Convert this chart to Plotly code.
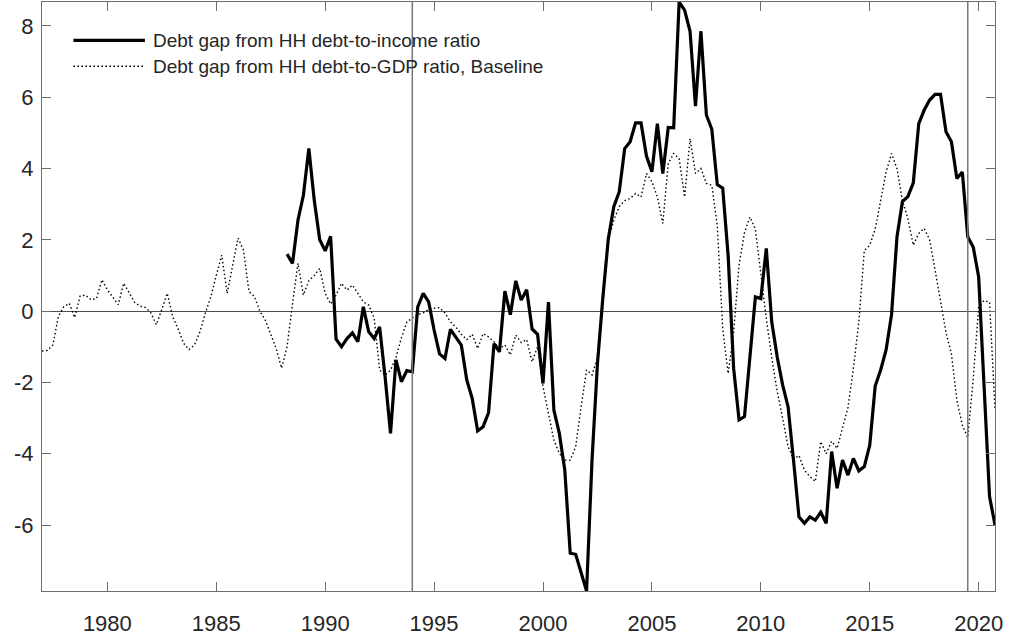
import plotly.graph_objects as go

# quarterly series, first quarter of start year onward
gdp_start = 1977
income_start = 1988.25

# debt gap from HH debt-to-GDP ratio (baseline), 1977Q1 - 2020Q4
debt_gdp_gap = [
    -1.12, -1.10, -0.95, -0.15,   # 1977
    0.12, 0.22, -0.18, 0.42,      # 1978
    0.45, 0.32, 0.35, 0.88,       # 1979
    0.60, 0.38, 0.18, 0.78,       # 1980
    0.50, 0.25, 0.14, 0.10,       # 1981
    -0.05, -0.38, 0.05, 0.50,     # 1982
    -0.16, -0.50, -0.90, -1.08,   # 1983
    -0.95, -0.58, -0.05, 0.40,    # 1984
    1.00, 1.57, 0.50, 1.30,       # 1985
    2.05, 1.71, 0.55, 0.41,       # 1986
    0.00, -0.25, -0.65, -1.05,    # 1987
    -1.60, -1.00, 0.20, 1.34,     # 1988
    0.45, 0.85, 1.00, 1.20,       # 1989
    0.50, 0.20, 0.45, 0.78,       # 1990
    0.59, 0.73, 0.50, 0.26,       # 1991
    0.17, -0.20, -1.65, -1.80,    # 1992
    -1.65, -1.30, -0.75, -0.30,   # 1993
    -0.20, -0.10, -0.05, 0.05,    # 1994
    0.08, 0.10, -0.05, -0.30,     # 1995
    -0.45, -0.65, -0.80, -0.65,   # 1996
    -1.05, -0.63, -0.72, -0.86,   # 1997
    -1.05, -0.95, -1.23, -0.67,   # 1998
    -0.88, -0.80, -1.42, -1.00,   # 1999
    -2.12, -2.87, -3.62, -3.99,   # 2000
    -4.18, -4.18, -3.80, -2.68,   # 2001
    -1.65, -1.79, -1.30, 0.20,    # 2002
    1.99, 2.55, 2.93, 3.10,       # 2003
    3.16, 3.30, 3.20, 3.86,       # 2004
    3.63, 3.20, 2.46, 4.14,       # 2005
    4.42, 4.28, 3.20, 4.84,       # 2006
    3.86, 4.00, 3.58, 3.53,       # 2007
    2.40, -0.50, -1.75, -0.60,    # 2008
    1.30, 2.20, 2.64, 2.30,       # 2009
    1.00, -0.20, -1.30, -2.25,    # 2010
    -3.00, -3.80, -4.15, -4.05,   # 2011
    -4.46, -4.64, -4.78, -3.66,   # 2012
    -4.00, -3.65, -3.85, -3.30,   # 2013
    -2.70, -1.60, -0.30, 1.70,    # 2014
    1.85, 2.30, 3.10, 3.90,       # 2015
    4.42, 4.00, 3.10, 2.60,       # 2016
    1.85, 2.18, 2.32, 2.00,       # 2017
    1.15, 0.30, -0.60, -1.20,     # 2018
    -2.50, -3.20, -3.55, -1.90,   # 2019
    0.10, 0.30, 0.25, -2.75,      # 2020
]

# debt gap from HH debt-to-income ratio, 1988Q2 - 2020Q4
debt_income_gap = [
    1.60, 1.34, 2.55,             # 1988
    3.25, 4.56, 3.10, 2.00,       # 1989
    1.69, 2.10, -0.79, -1.00,     # 1990
    -0.77, -0.61, -0.86, 0.12,    # 1991
    -0.58, -0.77, -0.44, -1.84,   # 1992
    -3.43, -1.37, -1.98, -1.67,   # 1993
    -1.70, 0.12, 0.50, 0.26,      # 1994
    -0.53, -1.20, -1.33, -0.51,   # 1995
    -0.72, -0.95, -1.93, -2.45,   # 1996
    -3.36, -3.24, -2.85, -0.91,   # 1997
    -1.14, 0.56, -0.10, 0.85,     # 1998
    0.31, 0.60, -0.50, -0.65,     # 1999
    -2.03, 0.25, -2.78, -3.43,    # 2000
    -4.46, -6.79, -6.82, -7.31,   # 2001
    -7.85, -4.18, -1.47, 0.40,    # 2002
    2.04, 2.93, 3.35, 4.56,       # 2003
    4.75, 5.28, 5.28, 4.35,       # 2004
    3.91, 5.26, 3.86, 5.15,       # 2005
    5.14, 8.67, 8.44, 7.85,       # 2006
    5.75, 7.85, 5.50, 5.10,       # 2007
    3.55, 3.45, 1.55, -1.60,      # 2008
    -3.05, -2.96, -1.30, 0.40,    # 2009
    0.35, 1.76, -0.30, -1.28,     # 2010
    -2.07, -2.68, -4.18, -5.77,   # 2011
    -5.95, -5.77, -5.86, -5.64,   # 2012
    -5.95, -3.94, -4.97, -4.18,   # 2013
    -4.60, -4.13, -4.48, -4.36,   # 2014
    -3.76, -2.10, -1.65, -1.09,   # 2015
    -0.10, 2.08, 3.07, 3.21,      # 2016
    3.60, 5.26, 5.64, 5.92,       # 2017
    6.08, 6.08, 5.03, 4.75,       # 2018
    3.72, 3.90, 2.08, 1.80,       # 2019
    0.96, -2.30, -5.20, -6.00,    # 2020
]

event_years = [1994.0, 2019.5]
x_ticks = [1980, 1985, 1990, 1995, 2000, 2005, 2010, 2015, 2020]
y_ticks = [-6, -4, -2, 0, 2, 4, 6, 8]
y_tick_labels = ["-6", "-4", "-2", "0", "2", "4", "6", "8"]
series_names = [
    "Debt gap from HH debt-to-income ratio",
    "Debt gap from HH debt-to-GDP ratio, Baseline",
]

x_gdp = [gdp_start + i / 4 for i in range(len(debt_gdp_gap))]
x_inc = [income_start + i / 4 for i in range(len(debt_income_gap))]

axis_col = "#6e6e6e"
txt_col = "#262626"
font_fam = "Liberation Sans, Arial, sans-serif"
tick_font = dict(family=font_fam, color=txt_col, size=22)
dotted = dict(color="black", width=1.4, dash="1.5px,2.5px")
solid = dict(color="black", width=3.2)

fig = go.Figure()
fig.add_trace(go.Scatter(
    x=x_gdp, y=debt_gdp_gap, mode="lines", name=series_names[1], line=dotted))
fig.add_trace(go.Scatter(
    x=x_inc, y=debt_income_gap, mode="lines", name=series_names[0], line=solid))

all_y = debt_gdp_gap + debt_income_gap

for yr in event_years:
    fig.add_shape(type="line", xref="x", yref="paper", x0=yr, x1=yr, y0=0, y1=1,
                  line=dict(color="#777777", width=1.5))

# legend drawn by hand, top left inside the axes
leg_rows = [(0.935, solid), (0.891, dotted)]
for (yy, ln), name in zip(leg_rows, series_names):
    fig.add_shape(type="line", xref="paper", yref="paper",
                  x0=0.033, x1=0.108, y0=yy, y1=yy, line=ln)
    fig.add_annotation(x=0.114, y=yy, xref="paper", yref="paper", text=name,
                       showarrow=False, xanchor="left", yanchor="middle",
                       font=dict(size=19, color=txt_col, family=font_fam))

fig.update_layout(
    width=1011, height=637,
    margin=dict(l=42, r=16, t=2, b=46, autoexpand=False),
    plot_bgcolor="white", paper_bgcolor="white",
    showlegend=False,
    font=dict(family=font_fam, color=txt_col, size=22))

fig.update_xaxes(
    range=[x_gdp[0], x_gdp[-1]], tickvals=x_ticks, tickfont=tick_font,
    ticks="inside", ticklen=9, tickcolor=axis_col, tickwidth=1,
    ticklabelstandoff=12,
    showline=True, linecolor=axis_col, linewidth=1.3, mirror="ticks",
    showgrid=False, zeroline=False, automargin=False)
fig.update_yaxes(
    range=[min(all_y), max(all_y)], tickvals=y_ticks, ticktext=y_tick_labels,
    tickfont=tick_font, ticklabelstandoff=3,
    ticks="inside", ticklen=9, tickcolor=axis_col, tickwidth=1,
    showline=True, linecolor=axis_col, linewidth=1.3, mirror="ticks",
    showgrid=False, zeroline=True, zerolinecolor="#4d4d4d", zerolinewidth=1,
    automargin=False)

# page body margin would shift the figure by 8px
fig.write_html("out.html", config={"displayModeBar": False},
               post_script="document.body.style.margin='0';")
